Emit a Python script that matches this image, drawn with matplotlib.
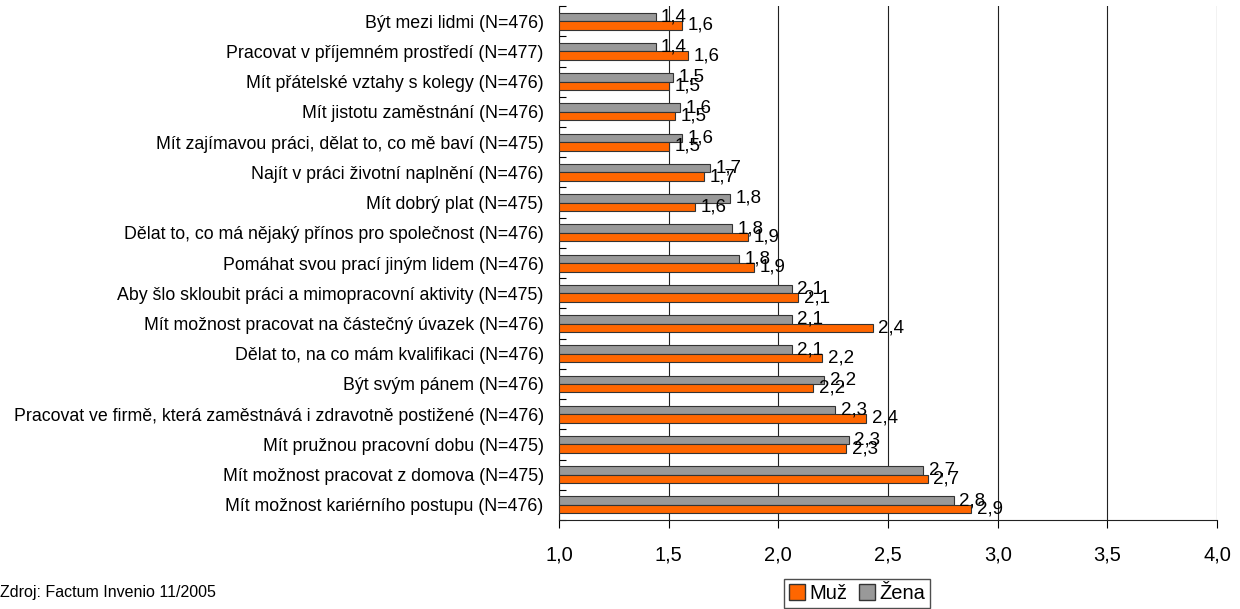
import numpy as np
import matplotlib.pyplot as plt
from matplotlib.patches import Patch

plt.rcParams['font.family'] = ['Liberation Sans', 'DejaVu Sans']

# ============================================================
# data (top to bottom as listed)
# ============================================================
categories = [
    "Být mezi lidmi (N=476)",
    "Pracovat v příjemném prostředí (N=477)",
    "Mít přátelské vztahy s kolegy (N=476)",
    "Mít jistotu zaměstnání (N=476)",
    "Mít zajímavou práci, dělat to, co mě baví (N=475)",
    "Najít v práci životní naplnění (N=476)",
    "Mít dobrý plat (N=475)",
    "Dělat to, co má nějaký přínos pro společnost (N=476)",
    "Pomáhat svou prací jiným lidem (N=476)",
    "Aby šlo skloubit práci a mimopracovní aktivity (N=475)",
    "Mít možnost pracovat na částečný úvazek (N=476)",
    "Dělat to, na co mám kvalifikaci (N=476)",
    "Být svým pánem (N=476)",
    "Pracovat ve firmě, která zaměstnává i zdravotně postižené (N=476)",
    "Mít pružnou pracovní dobu (N=475)",
    "Mít možnost pracovat z domova (N=475)",
    "Mít možnost kariérního postupu (N=476)",
]

zena = [1.44, 1.44, 1.52, 1.55, 1.56, 1.69, 1.78, 1.79, 1.82, 2.06,
        2.06, 2.06, 2.21, 2.26, 2.32, 2.66, 2.80]
muz = [1.56, 1.59, 1.50, 1.53, 1.50, 1.66, 1.62, 1.86, 1.89, 2.09,
       2.43, 2.20, 2.16, 2.40, 2.31, 2.68, 2.88]

orange = "#ff6600"
grey = "#999999"


def fmt(v):
    return f"{v:.1f}".replace(".", ",")


fig = plt.figure(figsize=(12.4, 6.09), dpi=100)
ax = fig.add_axes([0.4508, 0.1461, 0.5307, 0.8439])

y = np.arange(len(categories))
h = 0.28

# bars start from the axis minimum (1.0)
ax.barh(y - h / 2, np.array(zena) - 1.0, h, left=1.0, color=grey,
        edgecolor="#333333", linewidth=0.8, zorder=3)
ax.barh(y + h / 2, np.array(muz) - 1.0, h, left=1.0, color=orange,
        edgecolor="#333333", linewidth=0.8, zorder=3)

for i in range(len(categories)):
    ax.annotate(fmt(zena[i]), (zena[i], y[i] - h / 2),
                xytext=(4, 0), textcoords="offset points",
                va="center", ha="left", fontsize=13.5, zorder=4)
    ax.annotate(fmt(muz[i]), (muz[i], y[i] + h / 2),
                xytext=(4, 0), textcoords="offset points",
                va="center", ha="left", fontsize=13.5, zorder=4)

ax.set_xlim(1.0, 4.0)
ax.set_ylim(len(categories) - 0.5, -0.5)

xt = np.arange(1.0, 4.01, 0.5)
ax.set_xticks(xt)
ax.set_xticklabels([fmt(v) for v in xt], fontsize=14.5)
ax.set_yticks(y)
ax.set_yticklabels(categories, fontsize=12.8)
ax.set_yticks(np.arange(-0.5, len(categories), 1.0), minor=True)

ax.tick_params(axis="y", which="major", length=0, pad=11)
ax.tick_params(axis="y", which="minor", length=5, direction="in", width=0.8)
ax.tick_params(axis="x", length=6, direction="out", width=0.8, pad=12)

ax.grid(axis="x", color="#222222", linewidth=0.8, zorder=0)
ax.spines["top"].set_visible(False)
ax.spines["right"].set_visible(False)
ax.spines["left"].set_color("#222222")
ax.spines["bottom"].set_color("#222222")

handles = [Patch(facecolor=orange, edgecolor="#333333", label="Muž"),
           Patch(facecolor=grey, edgecolor="#333333", label="Žena")]
leg = fig.legend(handles=handles, loc="upper left",
                 bbox_to_anchor=(784 / 1240, 1 - 579 / 609), ncol=2, fontsize=14.5,
                 frameon=True, fancybox=False, edgecolor="#222222",
                 handlelength=0.8, handleheight=0.8, handletextpad=0.2,
                 columnspacing=0.6, borderpad=0.25, borderaxespad=0)

fig.text(0.0, 1 - 593 / 609, "Zdroj: Factum Invenio 11/2005", fontsize=11.5,
         ha="left", va="center")

fig.savefig("out.png", dpi=100)
